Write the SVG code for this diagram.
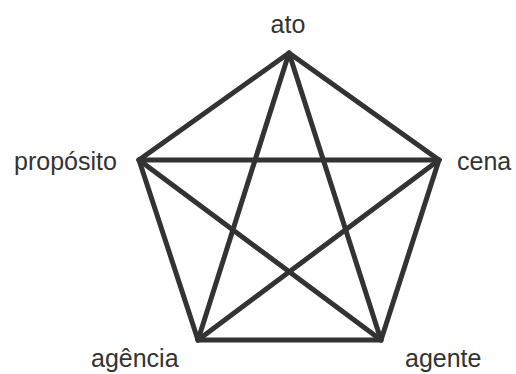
<svg xmlns="http://www.w3.org/2000/svg" width="516" height="374" viewBox="0 0 516 374">
<style>
.e{stroke:#333;stroke-width:5;fill:none;stroke-linejoin:miter;stroke-linecap:round}
.t{font-family:"Liberation Sans",Arial,sans-serif;font-size:25px;fill:#333}
</style>
<rect width="516" height="374" fill="#fff"/>
<g id="connectors">
<path class="e" d="M289,53 L439,160 L381,340 L198,340 L139,160 Z"/>
<path class="e" d="M289,53 L381,340"/>
<path class="e" d="M289,53 L198,340"/>
<path class="e" d="M139,160 L439,160"/>
<path class="e" d="M139,160 L381,340"/>
<path class="e" d="M439,160 L198,340"/>
</g>
<g id="ato"><text class="t" x="288" y="33" text-anchor="middle">ato</text></g>
<g id="cena"><text class="t" x="457" y="170">cena</text></g>
<g id="agente"><text class="t" x="405" y="367">agente</text></g>
<g id="agencia"><text class="t" x="91" y="367">agência</text></g>
<g id="proposito"><text class="t" x="14" y="170">propósito</text></g>
</svg>
